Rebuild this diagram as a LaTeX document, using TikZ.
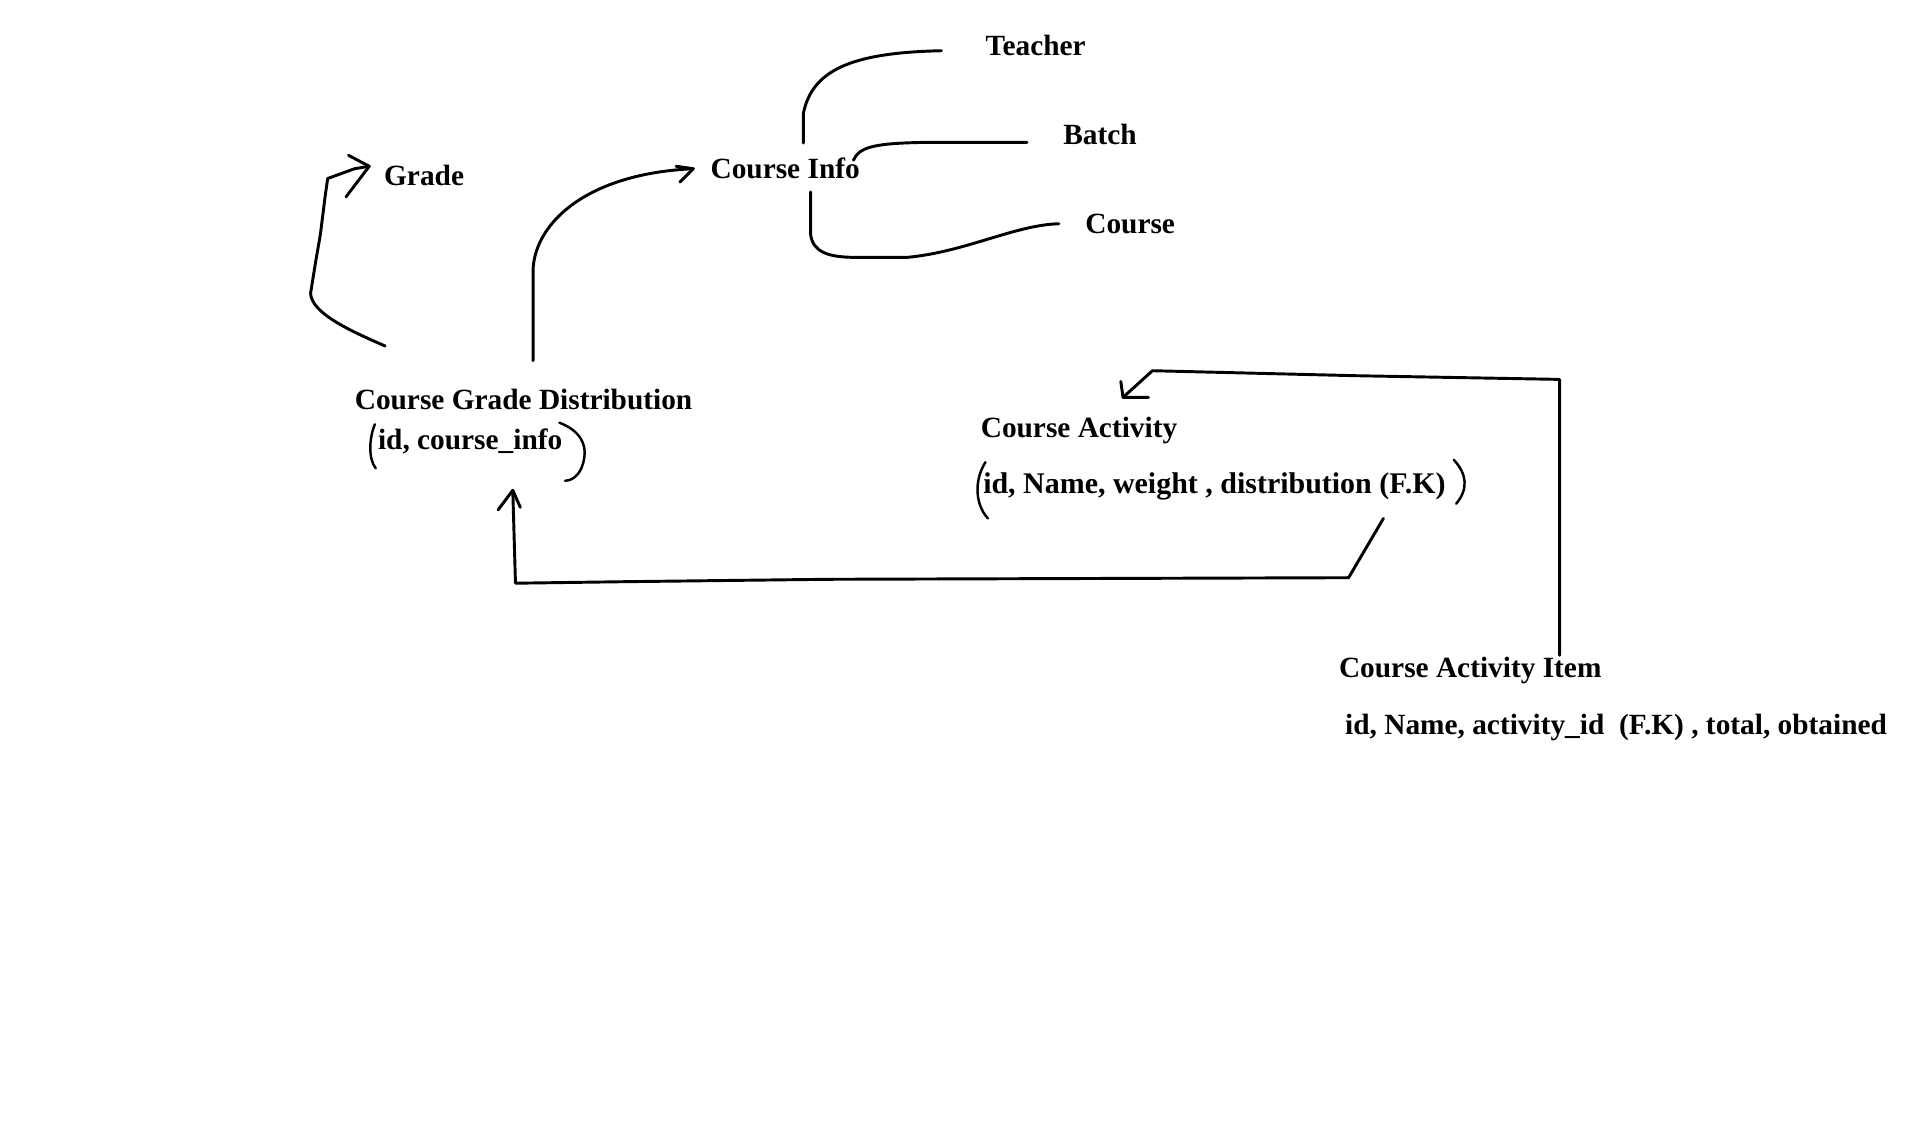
\documentclass[tikz,border=0pt]{standalone}
\usepackage{fontspec}
\setmainfont{Liberation Serif}
\begin{document}
\begin{tikzpicture}[x=1pt,y=-1pt,
  lbl/.style={anchor=base west,inner sep=0pt,font=\fontsize{24}{28}\selectfont\bfseries},
  pen/.style={line width=2.4pt,line cap=round,line join=round},
  thinpen/.style={line width=2pt,line cap=round,line join=round}]
\path[use as bounding box,fill=white] (0,0) rectangle (1563,924);
% texts
\node[lbl] (teacher) at (806,45) {Teacher};
\node[lbl] (batch) at (869.5,118) {Batch};
\node[lbl] (grade) at (314,152) {Grade};
\node[lbl] (cinfo) at (581,146) {Course Info};
\node[lbl] (course) at (887.5,191) {Course};
\node[lbl] (cgd) at (290,335) {Course Grade Distribution};
\node[lbl] (cgdf) at (309,367.5) {id, course\_info};
\node[lbl] (ca) at (802,357.5) {Course Activity};
\node[lbl,font=\fontsize{24.5}{28}\selectfont\bfseries] (caf) at (804,404) {id, Name, weight , distribution (F.K)};
\node[lbl] (cai) at (1095,554) {Course Activity Item};
\node[lbl] (caif) at (1100,601) {id, Name, activity\_id\ \ (F.K) , total, obtained};
% coordinates
\coordinate (g0) at (315,283);
\coordinate (gtip) at (302,136);
\coordinate (c0) at (436,295);
\coordinate (ctip) at (567,138);
\coordinate (t0) at (657,117);
\coordinate (t1) at (770,41.5);
\coordinate (b0) at (698,131);
\coordinate (b1) at (840,116.4);
\coordinate (k0) at (663,157);
\coordinate (k1) at (866,183);
\coordinate (a0) at (1131.5,424);
\coordinate (atip) at (419.4,401);
\coordinate (i0) at (1275.6,536);
\coordinate (itip) at (918.5,325);
% Grade arrow
\draw[pen] (g0) .. controls (285,270) and (255,256) .. (254,240)
  -- (258,215) -- (262,192) -- (266,160) -- (268,146) -- (290,138) -- (gtip);
\draw[pen] (285,127) -- (gtip) -- (283,161);
% CGD -> Course Info
\draw[pen] (c0) -- (436,220) .. controls (438,182) and (480,142) .. (ctip);
\draw[pen] (553,136) -- (ctip) -- (556,149);
% Course Info -> Teacher, Batch, Course
\draw[pen] (t0) -- (657,93) .. controls (664,58) and (695,43) .. (t1);
\draw[pen] (b0) .. controls (703,120) and (715,117) .. (760,116.4) -- (b1);
\draw[pen] (k0) -- (663,192) .. controls (665,206) and (677,210.5) .. (700,210.5)
  -- (742,210.5) .. controls (790,206) and (830,184) .. (k1);
% Course Activity -> CGD
\draw[pen] (a0) -- (1103,472.5) -- (676.7,473.8) -- (507.6,475.8) -- (421.6,477) -- (atip);
\draw[pen] (407.4,417) -- (atip) -- (425.6,415);
% Course Activity Item -> Course Activity
\draw[pen] (i0) -- (1275.6,310.3) -- (1109.5,307.3) -- (942.6,303.2) -- (itip);
\draw[pen] (916.7,312) -- (itip) -- (939.3,325);
% hand-drawn parentheses
\draw[thinpen] (306.6,347) .. controls (302,358) and (301,375) .. (307.3,383);
\draw[thinpen] (457.5,345.7) .. controls (474,352) and (480,363) .. (477.8,375)
  .. controls (476,386) and (470,393) .. (462.2,393.2);
\draw[thinpen] (806,378) .. controls (797,392) and (797,412) .. (808,424);
\draw[thinpen] (1189,376) .. controls (1200,388) and (1201,400) .. (1191,412);
\end{tikzpicture}
\end{document}
